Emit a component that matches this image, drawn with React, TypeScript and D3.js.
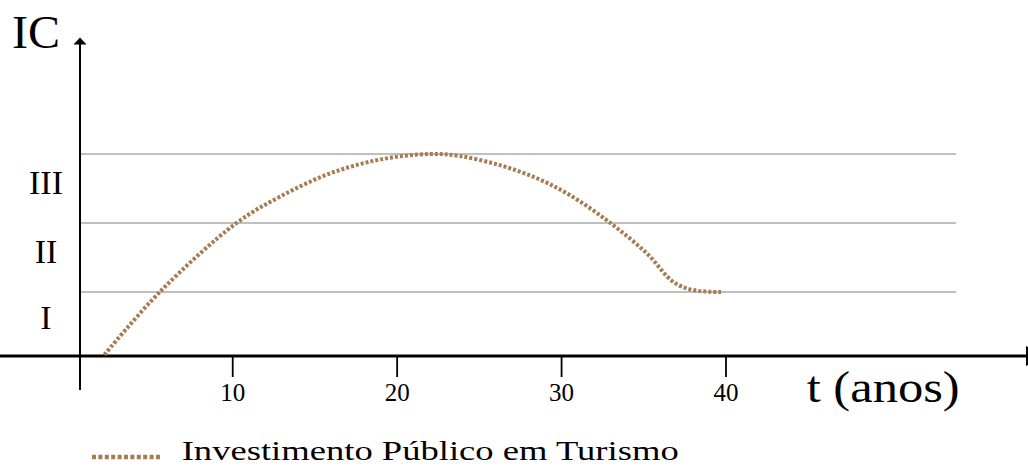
import React from 'react';
import * as d3 from 'd3';

const W = 1028;
const H = 466;

// curve: t (anos) vs IC level
const years = [2.2, 5.6, 10.2, 12.9, 15.9, 19.0, 22.0, 23.8, 26.3, 28.5, 30.5, 33.0, 35.2, 36.8, 38.0, 39.7];
const investment = [0.02, 0.96, 1.97, 2.37, 2.71, 2.92, 3.0, 2.97, 2.83, 2.64, 2.39, 1.97, 1.52, 1.1, 0.98, 0.95];

const xTicks = [10, 20, 30, 40];
const levelBounds = [0, 0.95, 1.975, 3];
const levelLabels = ['I', 'II', 'III'];

const seriesName = 'Investimento Público em Turismo';
const yTitle = 'IC';
const xTitle = 't (anos)';

const serif = '"Liberation Serif", "Times New Roman", serif';
const brown = '#a67c52';

export default function App() {
  const x = d3.scaleLinear().domain([0, 40]).range([68.3, 726]);
  const y = d3.scaleLinear().domain([0, 3]).range([356, 154]);

  const axisX = 80;
  const gridEnd = x(54);

  const points = years.map((t, i) => [t, investment[i]] as [number, number]);
  const line = d3
    .line<[number, number]>()
    .x(d => x(d[0]))
    .y(d => y(d[1]))
    .curve(d3.curveCatmullRom.alpha(0.5));

  return (
    <svg
      width={W}
      height={H}
      style={{ position: 'fixed', left: 0, top: 0, background: '#fff' }}
      fontFamily={serif}
    >
      {/* level gridlines */}
      {levelBounds.slice(1).map(v => (
        <line key={v} x1={axisX} x2={gridEnd} y1={y(v)} y2={y(v)} stroke="#aaa" strokeWidth={1.5} />
      ))}

      {/* level labels */}
      {levelLabels.map((lab, i) => (
        <text
          key={lab}
          x={46}
          y={y((levelBounds[i] + levelBounds[i + 1]) / 2) + 5}
          textAnchor="middle"
          fontSize={34}
        >
          {lab}
        </text>
      ))}

      {/* y axis */}
      <line x1={axisX} x2={axisX} y1={40} y2={390} stroke="#000" strokeWidth={2} />
      <path d={`M${axisX - 6.5},44.5L${axisX},37.5L${axisX + 6.5},44.5Z`} fill="#000" />
      <text x={12} y={48} fontSize={46} textLength={48} lengthAdjust="spacingAndGlyphs">
        {yTitle}
      </text>

      {/* x axis */}
      <line x1={0} x2={1026} y1={y(0)} y2={y(0)} stroke="#000" strokeWidth={3} />
      <path d={`M1026,${y(0) - 10}L1044,${y(0)}L1026,${y(0) + 10}Z`} fill="#000" />
      {xTicks.map(t => (
        <g key={t}>
          <line x1={x(t)} x2={x(t)} y1={y(0)} y2={y(0) + 21} stroke="#000" strokeWidth={1.8} />
          <text x={x(t)} y={400.5} textAnchor="middle" fontSize={25}>
            {t}
          </text>
        </g>
      ))}
      <text x={806.7} y={402} fontSize={44} textLength={153} lengthAdjust="spacingAndGlyphs">
        {xTitle}
      </text>

      {/* series */}
      <path d={line(points) || ''} fill="none" stroke={brown} strokeWidth={4} strokeDasharray="3,2" />

      {/* legend */}
      <line x1={92} x2={162} y1={457} y2={457} stroke={brown} strokeWidth={4.5} strokeDasharray="4,2.4" />
      <text x={181.7} y={460} fontSize={28} textLength={497} lengthAdjust="spacingAndGlyphs">
        {seriesName}
      </text>
    </svg>
  );
}
